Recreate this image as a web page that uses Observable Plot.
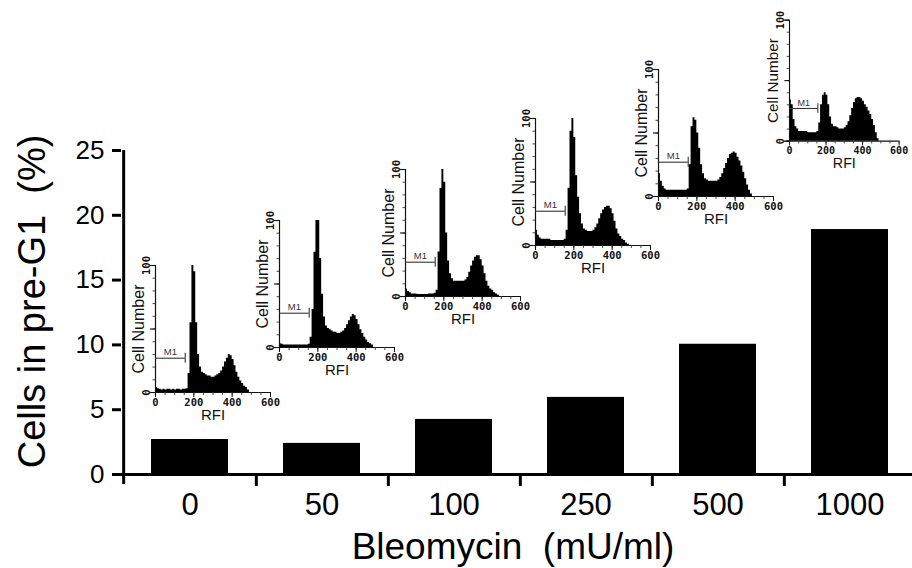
<!DOCTYPE html>
<html><head><meta charset="utf-8">
<script src="https://cdn.jsdelivr.net/npm/d3@7"></script>
<script src="https://cdn.jsdelivr.net/npm/@observablehq/plot@0.6"></script>
<style>
body{margin:0;background:#fff;}
#wrap{position:relative;width:912px;height:568px;overflow:hidden;background:#fff;}
#wrap > div{position:absolute;}
#wrap svg{display:block;}
</style></head><body><div id="wrap"></div>
<script>
// ---- main bar chart data ----
const doses = ["0", "50", "100", "250", "500", "1000"];
const preG1 = [2.7, 2.4, 4.25, 5.95, 10.05, 18.9];
const yTicks = [0, 5, 10, 15, 20, 25];
const xLabel = "Bleomycin\u00a0\u00a0(mU/ml)";
const yLabel = "Cells in pre-G1\u00a0\u00a0(%)";

// ---- inset histogram data (cell counts per 10-RFI bin, 0..500) ----
const binWidth = 10;
const hist0    = [4,3,2.5,2,2.5,2,2.5,2.5,2,2.5,2,2.5,2.5,2,2.5,2.5, 3,15,55,100,95,55,30,20,16,15, 14,13,13,12,12,13,14,15,17,20, 24,27,30,29,26,21,16,12,9,7, 5,4,2,0];
const hist50   = [3,2.5,2,2,2,2,2,2,2,2,2,2,2,2,2,2.5, 8,30,75,100,100,70,42,24,17,15, 14,13,12,12,11,11,12,13,15,18, 21,24,26,25,22,18,14,11,8,6, 4,3,2,0];
const hist100  = [6,4,3,2,2,2,1.5,1.5,1.5,1.5,1.5,1.5,2,2,2,2.5, 5,35,85,100,90,50,28,18,14,12, 12,12,12,12,12,13,15,19,24,28, 31,32,32,29,24,18,12,8,6,5, 3,2,1,0];
const hist250  = [12,8,6,5,5,5,5,5,4,4,4,4,4,4,4,5, 12,45,90,100,85,55,38,25,17,13, 12,11,11,11,12,14,17,21,25,28, 30,31,31,29,25,19,13,9,7,5, 4,2,1,0];
const hist500  = [18,12,8,6,5,5,5,5,5,5,5,5,5,5,5,6, 25,55,62,60,50,38,25,18,14,13, 12,12,12,12,12,13,15,18,22,26, 30,33,34,35,34,31,28,24,19,14, 9,5,2,0];
const hist1000 = [34,30,18,12,10,8,8,8,8,8,7,7,7,7,7,8, 15,30,38,40,38,30,20,14,12,12, 11,10,10,10,11,13,16,21,27,32, 35,36,36,35,33,30,28,25,22,18, 13,7,2,0];
const histograms = [hist0, hist50, hist100, hist250, hist500, hist1000];
const rfiTicks = [0, 200, 400, 600];
const rfiMinor = [0, 50, 100, 150, 200, 250, 300, 350, 400, 450, 500, 550, 600];
const countTicks = [0, 100];
const countMinor = [0, 10, 20, 30, 40, 50, 60, 70, 80, 90, 100];
const m1Gate = [0, 155];
const m1Level = 27;

// ---- layout (inset frame placement, px) ----
const insetLayout = [
  {left: 155, top: 265}, {left: 279, top: 220}, {left: 405, top: 169},
  {left: 535, top: 118}, {left: 658, top: 69}, {left: 791, top: 20}
];

const FONT = "Liberation Sans, Arial, Helvetica, sans-serif";
const wrap = document.getElementById("wrap");

// main chart
const R0 = 121, R1 = 917;
const step = (R1 - R0) / doses.length;
const rows = doses.map((d, i) => ({dose: d, value: preG1[i]}));

const main = Plot.plot({
  width: 912, height: 568,
  marginLeft: 121, marginRight: 0, marginTop: 150, marginBottom: 94,
  x: {domain: doses, range: [R0, R1], paddingInner: 0.42, paddingOuter: 0.21},
  y: {domain: [0, 25]},
  style: {fontFamily: FONT, background: "white", color: "black", overflow: "visible"},
  marks: [
    Plot.barY(rows, {x: "dose", y: "value", fill: "black"}),
    Plot.ruleY([0], {stroke: "black", strokeWidth: 3, insetLeft: -9}),
    Plot.ruleX([doses[0]], {x: d => d, dx: -step / 2, y1: 25, y2: 0, insetBottom: -10, stroke: "black", strokeWidth: 3}),
    Plot.ruleX(doses, {x: d => d, dx: step / 2, y1: 0, y2: 0, insetBottom: -12, stroke: "black", strokeWidth: 3}),
    Plot.axisY(yTicks, {tickSize: 9, tickPadding: 8, fontSize: 26, strokeWidth: 3, label: null, fill: "black"}),
    Plot.axisX(doses, {tickSize: 0, tickPadding: 18, fontSize: 31, label: null, fill: "black"}),
    Plot.text([yLabel], {frameAnchor: "left", textAnchor: "middle", rotate: -90, dx: -89, dy: -11, fontSize: 38, lineAnchor: "middle", fill: "black"}),
    Plot.text([xLabel], {frameAnchor: "bottom", textAnchor: "middle", dx: -4, dy: 84, fontSize: 37, lineAnchor: "bottom", fill: "black"})
  ]
});
const mainDiv = document.createElement("div");
mainDiv.style.left = "0px"; mainDiv.style.top = "0px";
mainDiv.appendChild(main);
wrap.appendChild(mainDiv);

// insets
const W = 115, H = 127, ml = 42, mr = 14, mt = 8, mb = 38;
histograms.forEach((counts, k) => {
  const pts = counts.map((c, i) => ({x: i * binWidth, y: c}));
  pts.push({x: counts.length * binWidth, y: 0});
  const svg = Plot.plot({
    width: ml + W + mr, height: mt + H + mb,
    marginLeft: ml, marginRight: mr, marginTop: mt, marginBottom: mb,
    x: {domain: [0, 600]}, y: {domain: [0, 100]},
    style: {fontFamily: FONT, background: "transparent", color: "#111", overflow: "visible"},
    marks: [
      Plot.areaY(pts, {x: "x", y: "y", curve: "step-after", fill: "#000"}),
      Plot.ruleX([0], {y1: 100, y2: 0, insetBottom: -3, stroke: "#111", strokeWidth: 1.2}),
      Plot.ruleY([0], {x1: 0, x2: 600, insetLeft: -3, stroke: "#111", strokeWidth: 1.2}),
      Plot.ruleY(countMinor, {x1: 0, x2: 0, insetLeft: -2.5, stroke: "#333", strokeWidth: 0.9}),
      Plot.ruleY([0, 50, 100], {x1: 0, x2: 0, insetLeft: -5, stroke: "#111", strokeWidth: 1.1}),
      Plot.ruleX(rfiMinor, {y1: 0, y2: 0, insetBottom: -3, stroke: "#333", strokeWidth: 0.9}),
      Plot.axisX(rfiTicks, {tickSize: 5, tickPadding: 1, fontSize: 10.5, fontWeight: "bold", fontFamily: "DejaVu Sans Mono, monospace", label: null, stroke: "#111", fill: "#111"}),
      Plot.axisY(countTicks, {tickSize: 5, tickPadding: 1, tickRotate: -90, fontSize: 10.5, fontWeight: "bold", fontFamily: "DejaVu Sans Mono, monospace", label: null, stroke: "#111", fill: "#111"}),
      Plot.ruleY([m1Level], {x1: m1Gate[0], x2: m1Gate[1], stroke: "#333", strokeWidth: 1.1}),
      Plot.ruleX([m1Gate[1]], {y1: m1Level + 4, y2: m1Level - 4, stroke: "#333", strokeWidth: 1.1}),
      Plot.text(["M1"], {x: (m1Gate[0] + m1Gate[1]) / 2, y: m1Level, dy: -6, fontSize: 9.5, fill: "#333"}),
      Plot.text(["Cell Number"], {frameAnchor: "left", textAnchor: "middle", rotate: -90, dx: -17, fontSize: 16, lineAnchor: "middle", fill: "#111"}),
      Plot.text(["RFI"], {frameAnchor: "bottom", textAnchor: "middle", dy: 17, fontSize: 15, lineAnchor: "top", fill: "#111"})
    ]
  });
  const d = document.createElement("div");
  d.style.left = (insetLayout[k].left - ml) + "px";
  d.style.top = (insetLayout[k].top - mt) + "px";
  d.appendChild(svg);
  wrap.appendChild(d);
});
</script>
</body></html>
